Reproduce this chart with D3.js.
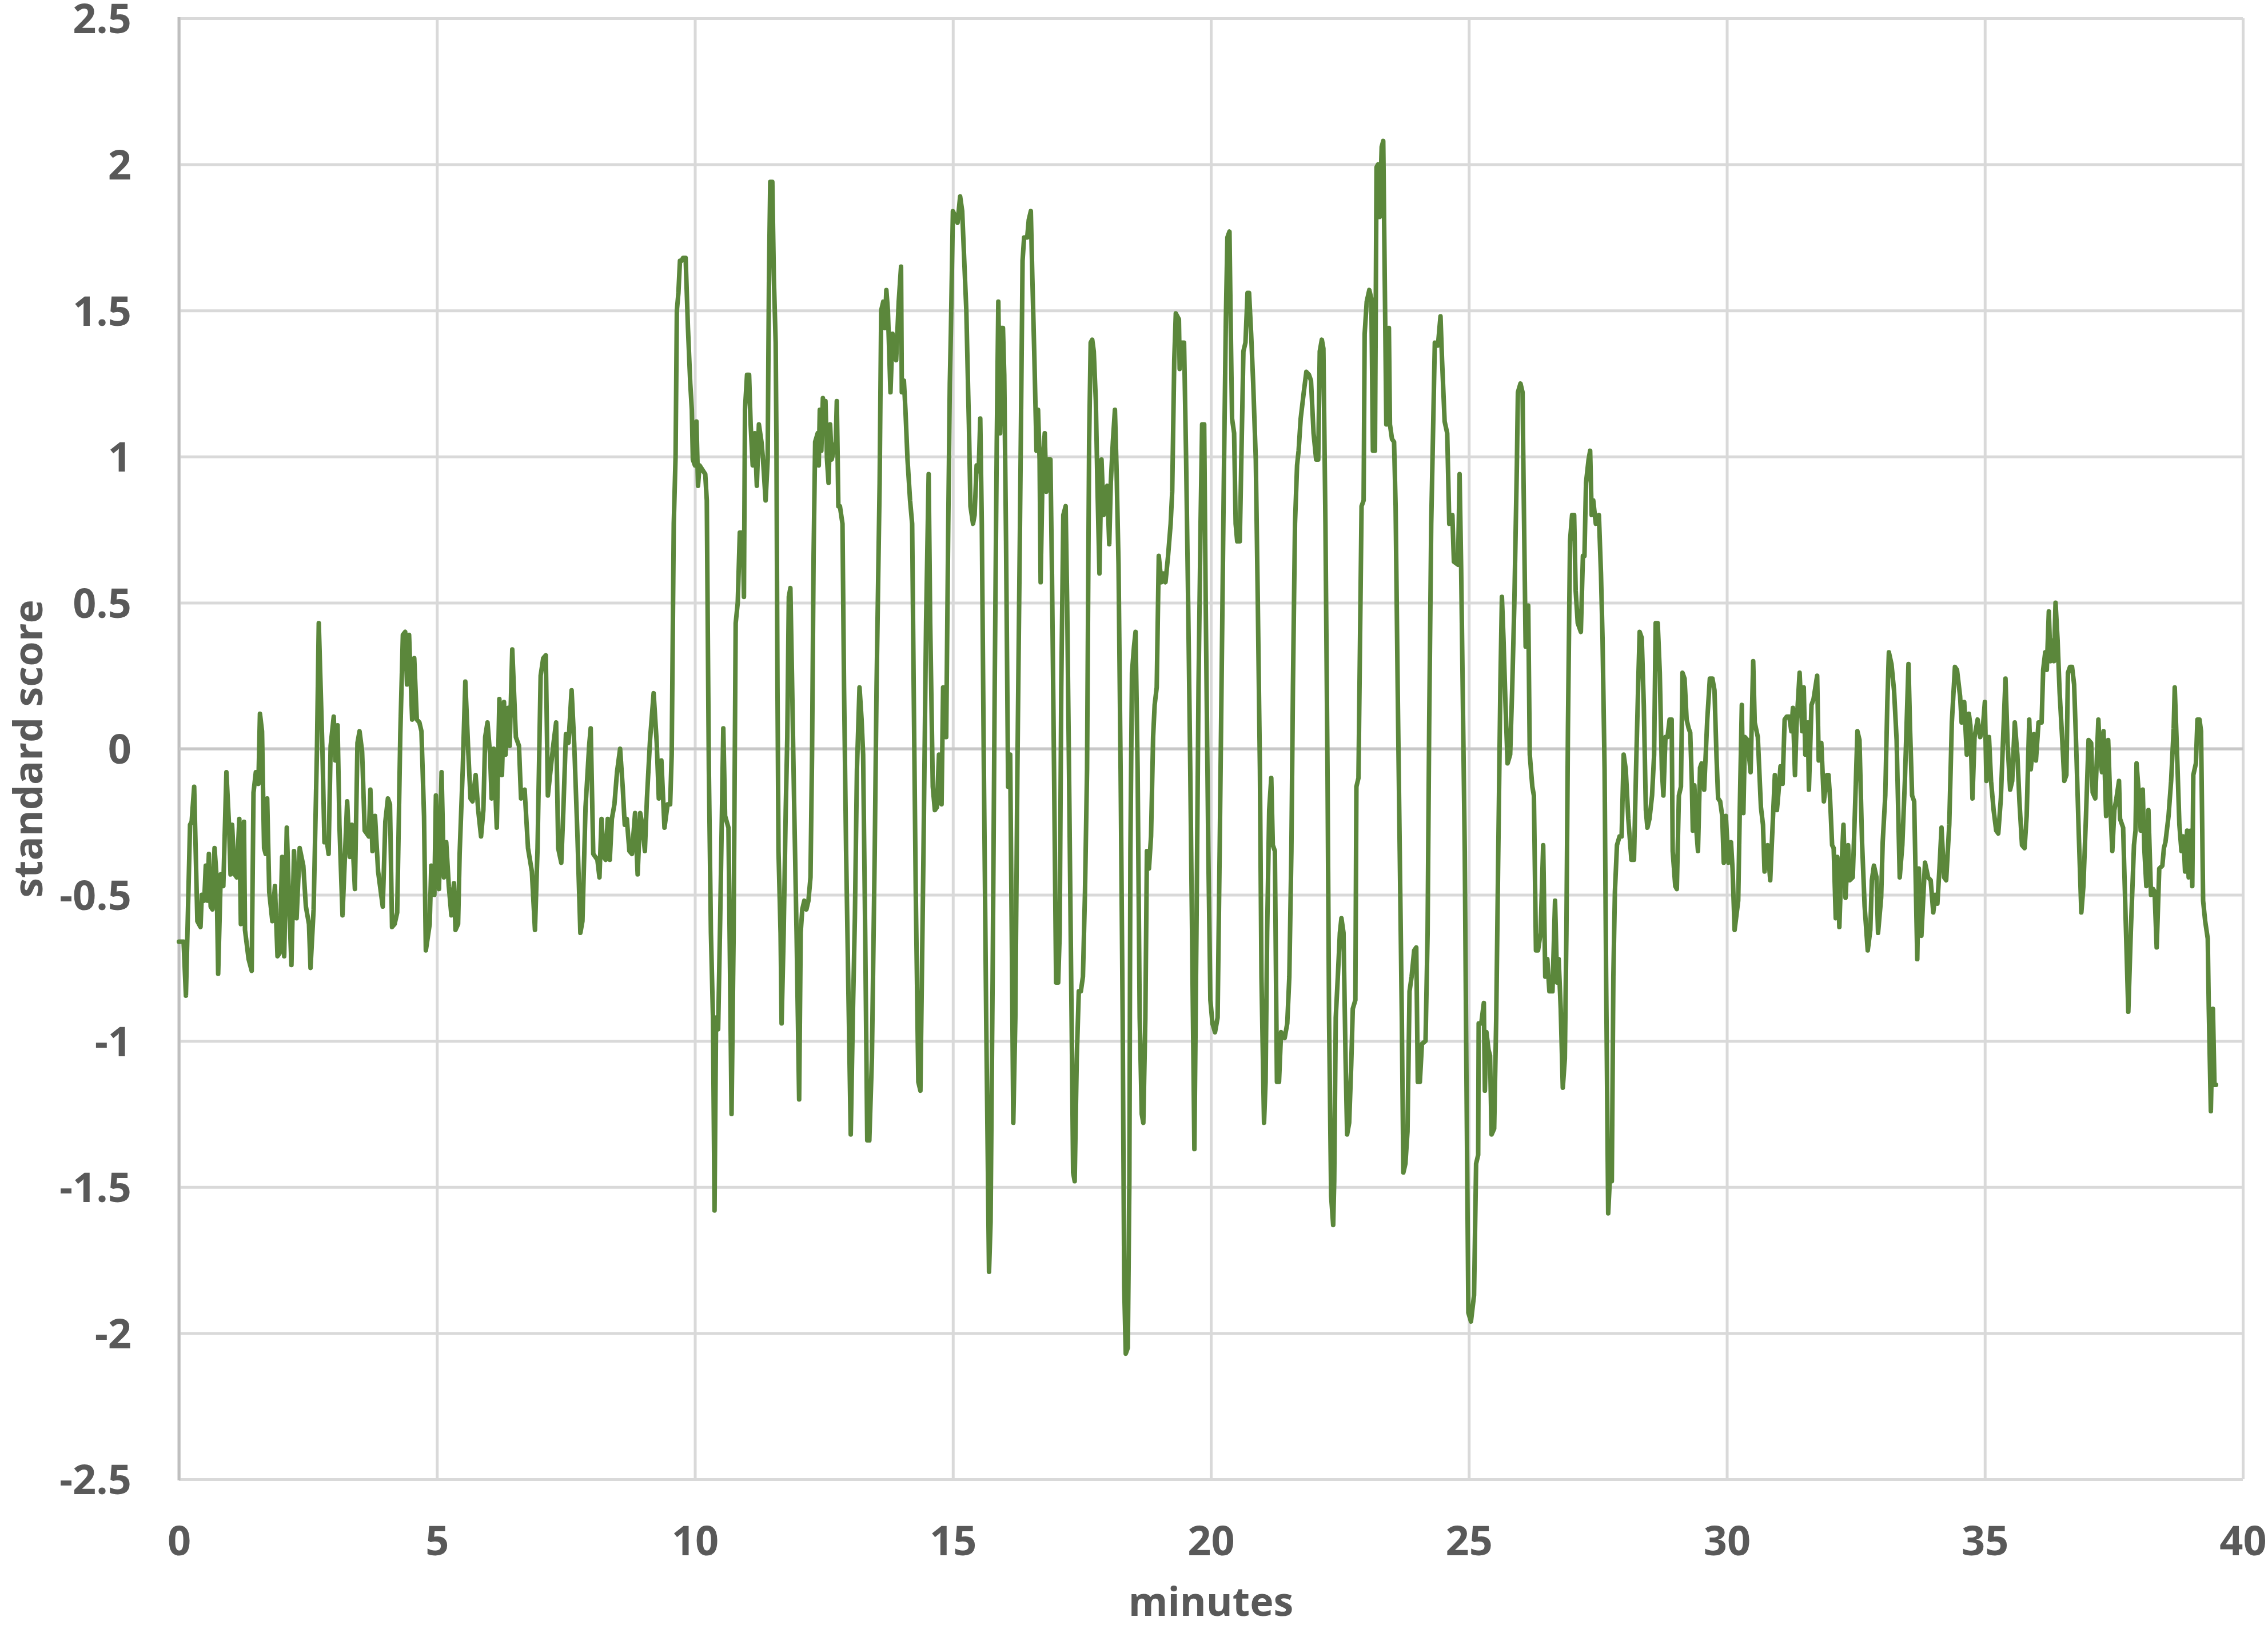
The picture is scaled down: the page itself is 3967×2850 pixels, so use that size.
<!DOCTYPE html>
<html><head><meta charset="utf-8">
<script src="https://cdn.jsdelivr.net/npm/d3@7"></script>
<style>html,body{margin:0;padding:0;background:#fff;} svg{display:block}</style>
</head><body>
<svg id="chart" width="3967" height="2850"></svg>
<script>
const minutes = [
0.0,0.09,0.135,0.17,0.215,0.246,0.295,0.357,0.418,0.443,
0.49,0.52,0.55,0.58,0.615,0.65,0.69,0.73,0.76,0.81,
0.86,0.92,0.97,1.0,1.03,1.08,1.12,1.17,1.2,1.26,
1.28,1.35,1.41,1.445,1.49,1.54,1.57,1.61,1.65,1.68,
1.71,1.75,1.81,1.86,1.91,1.95,2.0,2.04,2.09,2.14,
2.18,2.23,2.28,2.34,2.41,2.46,2.52,2.55,2.61,2.675,
2.71,2.78,2.82,2.87,2.90,2.94,3.0,3.03,3.075,3.11,
3.17,3.26,3.31,3.35,3.41,3.46,3.5,3.55,3.6,3.64,
3.68,3.71,3.75,3.8,3.86,3.95,4.0,4.05,4.09,4.13,
4.18,4.23,4.29,4.34,4.385,4.42,4.46,4.52,4.56,4.61,
4.66,4.70,4.75,4.785,4.86,4.89,4.95,4.98,5.04,5.09,
5.135,5.18,5.23,5.28,5.33,5.36,5.41,5.44,5.50,5.55,
5.61,5.65,5.69,5.75,5.8,5.855,5.90,5.935,5.98,6.03,
6.06,6.10,6.16,6.21,6.26,6.30,6.33,6.38,6.41,6.46,
6.53,6.59,6.63,6.70,6.765,6.84,6.90,6.95,7.01,7.06,
7.11,7.15,7.21,7.26,7.31,7.35,7.41,7.45,7.50,7.55,
7.61,7.66,7.72,7.78,7.82,7.88,7.95,7.98,8.03,8.11,
8.15,8.19,8.23,8.27,8.31,8.35,8.39,8.44,8.49,8.55,
8.60,8.64,8.68,8.73,8.78,8.84,8.89,8.94,8.98,9.03,
9.07,9.13,9.20,9.26,9.30,9.35,9.41,9.47,9.52,9.55,
9.59,9.625,9.65,9.68,9.71,9.74,9.77,9.82,9.865,9.91,
9.94,9.96,10.0,10.03,10.06,10.09,10.2,10.23,10.27,10.31,
10.35,10.38,10.41,10.45,10.49,10.55,10.585,10.65,10.68,10.71,
10.75,10.79,10.83,10.87,10.90,10.93,10.95,10.97,11.01,11.05,
11.08,11.12,11.16,11.2,11.24,11.29,11.32,11.37,11.41,11.435,
11.46,11.5,11.53,11.565,11.58,11.6,11.62,11.66,11.68,11.72,
11.76,11.79,11.82,11.85,11.88,11.92,11.97,12.02,12.05,12.08,
12.12,12.16,12.2,12.24,12.27,12.30,12.33,12.38,12.4,12.42,
12.45,12.48,12.51,12.53,12.56,12.59,12.62,12.65,12.73,12.75,
12.78,12.81,12.86,12.89,12.93,12.97,13.02,13.06,13.1,13.14,
13.19,13.23,13.26,13.3,13.34,13.38,13.43,13.485,13.52,13.58,
13.61,13.65,13.68,13.71,13.74,13.79,13.83,13.87,13.90,13.95,
13.995,14.01,14.05,14.08,14.12,14.17,14.21,14.24,14.28,14.33,
14.37,
14.43,14.48,14.53,14.56,14.61,14.65,14.69,14.73,14.78,14.81,
14.84,14.87,14.91,14.94,14.96,15.0,15.05,15.09,15.14,15.18,
15.22,15.26,15.31,15.34,15.39,15.42,15.46,15.50,15.53,15.56,
15.6,15.645,15.70,15.73,15.77,15.81,15.85,15.88,15.915,15.94,
15.97,15.995,16.03,16.07,16.11,16.14,16.17,16.21,16.25,16.3,
16.35,16.38,16.44,16.47,16.51,16.54,16.58,16.62,16.65,16.68,
16.70,16.74,16.78,16.81,16.85,16.89,16.92,16.96,17.0,17.04,
17.07,17.10,17.14,17.185,17.215,17.25,17.30,17.33,17.36,17.4,
17.44,17.48,17.52,17.56,17.6,17.64,17.67,17.7,17.73,17.77,
17.8,17.84,17.88,17.92,17.95,17.99,18.03,18.06,18.1,18.14,
18.17,18.21,18.25,18.29,18.32,18.35,18.39,18.42,18.44,18.47,
18.51,18.54,18.58,18.62,18.66,18.69,18.73,18.76,18.8,18.84,
18.88,18.91,18.95,18.99,19.04,19.08,19.12,19.17,19.22,19.25,
19.29,19.32,
19.38,19.395,19.43,19.48,19.52,19.56,19.6,19.635,19.68,19.72,
19.76,19.80,19.83,19.87,19.9,19.95,19.99,20.03,20.08,20.13,
20.17,20.22,20.25,20.29,20.32,20.36,20.385,20.41,20.45,20.48,
20.51,20.56,20.59,20.63,20.67,20.71,20.74,20.78,20.82,20.87,
20.91,20.95,20.98,21.03,21.06,21.09,21.13,21.17,21.2,21.24,
21.28,21.32,21.36,21.43,21.48,21.52,21.56,21.59,21.63,21.67,
21.70,21.74,21.80,21.85,21.90,21.94,21.99,22.04,22.08,22.11,
22.15,22.18,22.22,22.26,22.29,22.33,22.37,22.39,22.42,22.46,
22.5,22.53,22.57,22.61,22.64,22.68,22.72,22.75,22.8,22.82,
22.86,22.88,22.92,22.96,22.98,23.02,23.07,23.11,23.14,23.18,
23.21,23.24,23.27,23.31,23.34,23.38,23.4,23.45,23.47,23.51,
23.55,23.58,23.62,23.66,23.70,23.73,23.77,23.81,23.85,23.89,
23.94,23.98,24.01,24.05,24.09,24.16,24.2,24.23,24.27,
24.34,24.40,24.45,24.48,24.53,24.58,24.62,24.68,24.71,24.79,
24.82,24.85,24.88,24.92,24.95,24.99,25.04,25.1,25.14,25.18,
25.19,25.24,25.29,25.31,25.34,25.38,25.41,25.44,25.49,25.53,
25.57,25.61,25.64,25.67,25.71,25.75,25.8,25.84,25.88,25.93,
25.95,26.0,26.04,26.06,26.1,26.12,26.15,26.18,26.23,26.26,
26.3,26.34,26.39,26.44,26.48,26.52,26.56,26.62,26.67,26.71,
26.74,26.78,26.82,26.86,26.89,26.92,26.96,27.0,27.04,27.07,
27.11,27.17,27.21,27.24,27.27,27.32,27.35,27.38,27.41,27.46,
27.52,27.56,27.59,27.63,27.66,27.70,27.73,27.77,27.8,27.83,
27.87,27.92,27.96,28.0,28.04,28.09,28.15,28.2,28.24,28.28,
28.31,28.35,28.39,28.43,28.46,28.5,28.55,28.59,28.62,28.66,
28.7,28.74,28.77,28.81,28.85,28.89,28.93,28.95,29.0,29.03,
29.07,29.11,29.14,29.18,29.22,29.26,
29.29,29.32,29.34,29.37,29.41,29.44,29.48,29.51,29.56,29.62,
29.67,29.72,29.76,29.80,29.83,29.87,29.91,29.94,29.98,30.03,
30.08,30.11,30.15,30.22,30.25,30.29,30.32,30.35,30.40,30.46,
30.51,30.54,30.6,30.66,30.70,30.73,30.79,30.84,30.87,30.93,
30.97,31.0,31.04,31.08,31.12,31.16,31.21,31.25,31.28,31.32,
31.35,31.41,31.46,31.49,31.52,31.57,31.59,31.64,31.68,31.75,
31.78,31.83,31.88,31.94,31.97,32.0,32.04,32.07,32.11,32.14,
32.18,32.21,32.26,32.30,32.35,32.38,32.44,32.49,32.53,32.57,
32.62,32.67,32.73,32.78,32.81,32.85,32.90,32.93,32.99,33.02,
33.07,33.11,33.14,33.19,33.24,33.29,33.35,33.40,33.45,33.52,
33.55,33.59,33.63,33.69,33.72,33.77,33.84,33.90,33.95,34.0,
34.04,34.08,34.12,34.16,34.21,34.25,34.31,34.36,34.42,34.46,
34.52,34.55,34.60,34.65,34.69,34.72,34.76,34.80,34.86,34.91,
34.96,35.0,35.03,35.08,35.12,35.17,35.22,35.26,35.31,35.35,
35.40,35.44,35.49,35.53,35.58,35.63,35.67,35.72,35.77,35.81,
35.86,35.89,35.95,35.99,36.04,36.10,36.13,36.17,36.20,36.24,
36.27,36.30,36.34,36.37,36.41,36.45,36.50,36.54,36.58,36.61,
36.65,36.69,36.73,36.77,36.82,36.87,36.91,36.96,37.01,37.06,
37.09,37.14,37.20,37.23,37.27,37.30,37.35,37.39,37.44,37.47,
37.51,37.55,37.60,37.62,37.68,37.73,37.78,37.83,37.89,37.92,
37.94,37.99,38.02,38.06,38.09,38.13,38.17,38.22,38.26,38.29,
38.33,38.38,38.44,38.47,38.50,38.56,38.61,38.66,38.68,38.72,
38.77,38.81,38.85,38.88,38.92,38.95,38.99,39.02,39.04,39.09,
39.12,39.16,39.19,39.23,39.27,39.32,39.34,39.38,39.42,39.45,
39.48
];
const score = [
-0.66,-0.66,-0.845,-0.59,-0.26,-0.25,-0.13,-0.59,-0.61,-0.50,
-0.52,-0.40,-0.52,-0.36,-0.54,-0.55,-0.34,-0.44,-0.77,-0.43,
-0.47,-0.08,-0.26,-0.43,-0.26,-0.43,-0.44,-0.24,-0.60,-0.25,
-0.62,-0.72,-0.76,-0.15,-0.08,-0.12,0.12,0.06,-0.34,-0.36,
-0.17,-0.49,-0.59,-0.47,-0.71,-0.70,-0.37,-0.71,-0.27,-0.55,
-0.74,-0.35,-0.58,-0.34,-0.40,-0.54,-0.60,-0.75,-0.55,0.0,
0.43,0.0,-0.32,-0.32,-0.36,0.01,0.11,-0.04,0.08,-0.26,
-0.57,-0.18,-0.37,-0.26,-0.48,0.02,0.06,-0.01,-0.28,-0.29,
-0.30,-0.14,-0.35,-0.23,-0.42,-0.54,-0.25,-0.17,-0.19,-0.61,
-0.60,-0.56,0.05,0.39,0.40,0.22,0.39,0.10,0.31,0.10,
0.09,0.06,-0.23,-0.69,-0.60,-0.40,-0.50,-0.16,-0.48,-0.08,
-0.44,-0.32,-0.47,-0.57,-0.46,-0.62,-0.60,-0.36,-0.07,0.23,
-0.02,-0.17,-0.18,-0.09,-0.21,-0.30,-0.21,0.04,0.09,-0.02,
-0.17,0.0,-0.27,0.17,-0.09,0.16,-0.02,0.14,0.01,0.34,
0.04,0.01,-0.17,-0.14,-0.34,-0.42,-0.62,-0.34,0.25,0.31,
0.32,-0.16,-0.06,0.02,0.09,-0.34,-0.39,-0.21,0.05,0.02,
0.20,0.02,-0.28,-0.63,-0.59,-0.20,0.01,0.07,-0.36,-0.38,
-0.44,-0.24,-0.37,-0.38,-0.24,-0.38,-0.24,-0.19,-0.08,0.0,
-0.13,-0.26,-0.24,-0.35,-0.36,-0.22,-0.43,-0.22,-0.26,-0.35,
-0.17,0.03,0.19,0.02,-0.17,-0.04,-0.27,-0.19,-0.19,-0.02,
0.77,1.0,1.5,1.56,1.67,1.67,1.68,1.68,1.44,1.25,
1.16,0.99,0.97,1.12,0.90,0.97,0.94,0.85,-0.07,-0.63,
-0.92,-1.58,-0.92,-0.96,-0.58,0.07,-0.23,-0.27,-0.75,-1.25,
-0.63,0.43,0.50,0.74,0.74,0.71,0.52,1.16,1.28,1.28,
1.11,0.97,1.08,0.90,1.11,1.05,0.99,0.85,0.99,1.61,
1.94,1.94,1.61,1.39,1.05,0.21,-0.35,-0.63,-0.94,-0.63,
-0.21,0.04,0.52,0.55,0.26,-0.16,-0.63,-1.20,-0.63,-0.55,
-0.52,-0.55,-0.52,-0.44,-0.02,0.66,1.05,1.08,0.97,1.16,
1.02,1.20,1.11,1.19,0.99,0.91,1.11,0.99,1.05,1.19,
0.83,0.83,0.77,0.21,-0.35,-0.78,-1.32,-0.92,-0.58,-0.07,
0.21,0.10,-0.02,-0.63,-1.34,-1.34,-1.06,-0.35,0.21,0.91,
1.5,1.53,1.44,1.57,1.5,1.22,1.42,1.36,1.33,1.53,
1.65,1.22,1.26,1.16,0.99,0.85,0.77,0.21,-0.49,-1.14,
-1.17,
-0.35,0.43,0.94,0.43,-0.13,-0.21,-0.20,-0.02,-0.19,0.21,
0.21,0.04,0.77,1.25,1.42,1.84,1.82,1.80,1.89,1.84,
1.67,1.5,1.11,0.83,0.77,0.80,0.97,0.95,1.13,0.77,
-0.07,-0.92,-1.79,-1.62,-0.78,0.21,1.05,1.53,1.08,1.44,
1.44,1.28,0.71,-0.13,-0.02,-0.63,-1.28,-0.92,-0.07,0.77,
1.67,1.75,1.75,1.81,1.84,1.61,1.33,1.02,1.16,0.99,
0.57,0.97,1.08,0.88,0.99,0.99,0.60,-0.07,-0.80,-0.80,
-0.63,0.21,0.80,0.83,0.49,-0.07,-0.92,-1.45,-1.48,-1.06,
-0.83,-0.83,-0.78,-0.49,-0.07,1.05,1.39,1.40,1.36,1.19,
0.91,0.60,0.99,0.80,0.88,0.90,0.70,0.91,1.05,1.16,
0.97,0.63,-0.07,-0.92,-1.84,-2.07,-2.05,-1.48,-0.35,0.26,
0.35,0.40,-0.07,-0.92,-1.25,-1.28,-0.92,-0.35,-0.41,-0.30,
0.04,0.15,0.21,0.66,0.57,0.60,0.57,0.66,0.77,0.88,
1.33,1.49,
1.47,1.30,1.39,1.39,0.99,0.49,-0.07,-0.63,-1.37,-0.63,
0.21,0.77,1.11,1.11,0.49,-0.35,-0.86,-0.94,-0.97,-0.92,
-0.35,0.43,0.91,1.47,1.75,1.77,1.44,1.13,1.08,0.77,
0.71,0.71,0.99,1.36,1.39,1.56,1.56,1.42,1.25,0.99,
0.49,-0.07,-0.78,-1.28,-1.14,-0.63,-0.21,-0.10,-0.33,-0.35,
-1.14,-1.14,-0.97,-0.99,-0.94,-0.78,-0.35,0.21,0.77,0.97,
1.02,1.13,1.22,1.29,1.28,1.26,1.08,0.99,0.99,1.36,
1.40,1.37,0.77,-0.07,-0.92,-1.53,-1.63,-1.48,-0.92,-0.78,
-0.63,-0.58,-0.63,-1.06,-1.32,-1.28,-1.08,-0.89,-0.86,-0.13,
-0.10,0.21,0.83,0.85,1.42,1.53,1.57,1.54,1.02,1.02,
1.99,2.0,1.82,2.06,2.08,1.44,1.11,1.44,1.11,1.06,
1.05,0.83,0.21,-0.35,-0.92,-1.45,-1.42,-1.31,-0.83,-0.78,
-0.69,-0.68,-1.14,-1.14,-1.01,-1.0,-0.63,0.07,0.77,
1.39,1.38,1.48,1.33,1.12,1.08,0.77,0.80,0.64,0.63,
0.94,0.62,0.21,-0.35,-1.06,-1.93,-1.96,-1.87,-1.42,-1.39,
-0.94,-0.94,-0.87,-1.17,-0.97,-1.03,-1.05,-1.32,-1.30,-0.92,
-0.35,0.21,0.52,0.38,0.15,-0.05,-0.02,0.21,0.49,0.97,
1.22,1.25,1.22,0.91,0.35,0.38,0.49,-0.02,-0.13,-0.16,
-0.69,-0.69,-0.63,-0.33,-0.78,-0.72,-0.83,-0.83,-0.52,-0.80,
-0.72,-0.89,-1.16,-1.06,-0.63,0.07,0.71,0.80,0.80,0.54,
0.43,0.40,0.66,0.66,0.91,0.99,1.02,0.80,0.85,0.77,
0.80,0.60,0.38,-0.07,-0.78,-1.59,-1.48,-1.48,-0.78,-0.49,
-0.33,-0.30,-0.30,-0.02,-0.07,-0.24,-0.38,-0.38,-0.07,0.21,
0.40,0.38,0.15,-0.21,-0.27,-0.24,-0.16,-0.02,0.43,0.43,
0.26,-0.07,-0.16,0.04,0.04,0.10,0.10,-0.35,-0.47,-0.48,
-0.16,-0.13,0.26,0.24,0.10,0.07,
0.055,-0.11,-0.28,-0.125,-0.28,-0.35,-0.065,-0.05,-0.14,0.10,
0.24,0.24,0.20,-0.03,-0.17,-0.18,-0.23,-0.39,-0.23,-0.39,
-0.32,-0.41,-0.62,-0.52,-0.21,0.15,-0.22,0.04,0.03,-0.08,
0.30,0.09,0.04,-0.20,-0.26,-0.42,-0.33,-0.45,-0.33,-0.09,
-0.21,-0.15,-0.06,-0.12,0.10,0.11,0.11,0.06,0.14,-0.09,
0.08,0.26,0.06,0.21,-0.02,0.09,-0.14,0.15,0.17,0.25,
-0.04,0.02,-0.18,-0.09,-0.09,-0.17,-0.33,-0.34,-0.58,-0.37,
-0.61,-0.45,-0.26,-0.51,-0.33,-0.45,-0.44,-0.17,0.06,0.03,
-0.32,-0.54,-0.69,-0.62,-0.45,-0.40,-0.44,-0.63,-0.51,-0.32,
-0.16,0.16,0.33,0.29,0.20,0.03,-0.44,-0.33,-0.11,0.29,
0.07,-0.16,-0.18,-0.72,-0.41,-0.64,-0.39,-0.44,-0.45,-0.56,
-0.50,-0.53,-0.41,-0.27,-0.44,-0.45,-0.26,0.09,0.28,0.27,
0.18,0.09,0.16,-0.02,0.12,0.08,-0.17,0.04,0.10,0.04,
0.07,0.16,-0.11,0.04,-0.11,-0.21,-0.28,-0.29,-0.17,0.02,
0.24,0.02,-0.14,-0.11,0.09,-0.02,-0.18,-0.33,-0.34,-0.23,
0.10,-0.07,0.05,-0.04,0.09,0.09,0.27,0.33,0.27,0.47,
0.30,0.37,0.30,0.50,0.37,0.19,0.03,-0.11,-0.09,0.26,
0.28,0.28,0.22,0.01,-0.29,-0.56,-0.47,-0.23,0.03,0.02,
-0.15,-0.17,0.10,-0.03,-0.08,0.06,-0.23,0.03,-0.23,-0.35,
-0.21,-0.17,-0.11,-0.24,-0.27,-0.59,-0.90,-0.62,-0.33,-0.28,
-0.05,-0.17,-0.28,-0.14,-0.34,-0.47,-0.21,-0.50,-0.48,-0.49,
-0.68,-0.41,-0.40,-0.34,-0.32,-0.23,-0.11,0.07,0.21,0.01,
-0.26,-0.35,-0.30,-0.42,-0.28,-0.44,-0.28,-0.47,-0.09,-0.05,
0.10,0.10,0.06,-0.52,-0.59,-0.65,-0.89,-1.24,-0.89,-1.15,
-1.15
];
const xTicks = [0,5,10,15,20,25,30,35,40];
const xTickLabels = ["0","5","10","15","20","25","30","35","40"];
const yTicks = [2.5,2,1.5,1,0.5,0,-0.5,-1,-1.5,-2,-2.5];
const yTickLabels = ["2.5","2","1.5","1","0.5","0","-0.5","-1","-1.5","-2","-2.5"];
const xTitle = "minutes";
const yTitle = "standard score";

const W = 3967, H = 2850;
const L = 313, R = 3923, T = 32, B = 2588;
const FONT = "'Open Sans', Lato, sans-serif";
const TXT = "#595959";

const svg = d3.select("#chart");
svg.append("rect").attr("width", W).attr("height", H).attr("fill", "#fff");

const x = d3.scaleLinear().domain([0, 40]).range([L, R]);
const y = d3.scaleLinear().domain([-2.5, 2.5]).range([B, T]);

// horizontal gridlines + y labels
const gy = svg.append("g").attr("transform", `translate(${L},0)`)
  .call(d3.axisLeft(y).tickValues(yTicks).tickSize(-(R - L)).tickPadding(83)
    .tickFormat((d, i) => yTickLabels[i]));
gy.select(".domain").remove();
gy.selectAll(".tick line").attr("stroke", "#d9d9d9").attr("stroke-width", 5);
gy.selectAll(".tick text").attr("font-family", FONT).attr("font-size", 72)
  .attr("font-weight", 700).attr("fill", TXT).attr("dy", "0.36em");

// vertical gridlines + x labels
const gx = svg.append("g").attr("transform", `translate(0,${B})`)
  .call(d3.axisBottom(x).tickValues(xTicks).tickSize(-(B - T)).tickPadding(82)
    .tickFormat((d, i) => xTickLabels[i]));
gx.select(".domain").remove();
gx.selectAll(".tick line").attr("stroke", "#d9d9d9").attr("stroke-width", 5);
gx.selectAll(".tick text").attr("font-family", FONT).attr("font-size", 72)
  .attr("font-weight", 700).attr("fill", TXT);

// axis lines (left axis and zero line)
svg.append("line").attr("x1", x(0)).attr("x2", x(0)).attr("y1", T - 2).attr("y2", B + 2)
  .attr("stroke", "#bfbfbf").attr("stroke-width", 5);
svg.append("line").attr("x1", x(0)).attr("x2", x(40)).attr("y1", y(0)).attr("y2", y(0))
  .attr("stroke", "#c8c8c8").attr("stroke-width", 5);

// series line
const idx = d3.range(minutes.length);
const line = d3.line().x(i => x(minutes[i])).y(i => y(score[i]));
svg.append("path").datum(idx).attr("d", line)
  .attr("fill", "none").attr("stroke", "#5b873b").attr("stroke-width", 8)
  .attr("stroke-linejoin", "round").attr("stroke-linecap", "round");

// axis titles
svg.append("text").attr("x", (L + R) / 2).attr("y", 2827).attr("text-anchor", "middle")
  .attr("font-family", FONT).attr("font-size", 70).attr("font-weight", 700)
  .attr("fill", TXT).text(xTitle);
svg.append("text").attr("transform", `translate(74,${(T + B) / 2}) rotate(-90)`)
  .attr("text-anchor", "middle").attr("font-family", FONT).attr("font-size", 70)
  .attr("font-weight", 700).attr("fill", TXT).text(yTitle);
</script>
</body></html>
